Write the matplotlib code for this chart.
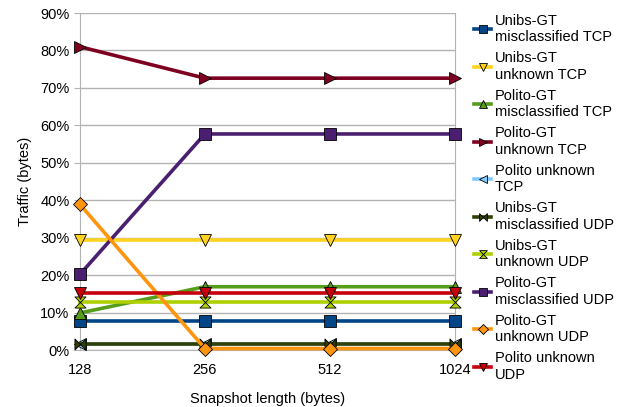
import matplotlib
matplotlib.use("Agg")
import matplotlib.pyplot as plt
from matplotlib.path import Path
from matplotlib.ticker import PercentFormatter

plt.rcParams['font.family'] = ['Liberation Sans', 'DejaVu Sans']

snap_labels = ["128", "256", "512", "1024"]
series_names = [
    "Unibs-GT\nmisclassified TCP",
    "Unibs-GT\nunknown TCP",
    "Polito-GT\nmisclassified TCP",
    "Polito-GT\nunknown TCP",
    "Polito unknown\nTCP",
    "Unibs-GT\nmisclassified UDP",
    "Unibs-GT\nunknown UDP",
    "Polito-GT\nmisclassified UDP",
    "Polito-GT\nunknown UDP",
    "Polito unknown\nUDP",
]
unibs_mis_tcp = [7.7, 7.7, 7.7, 7.7]
unibs_unk_tcp = [29.4, 29.4, 29.4, 29.4]
polito_mis_tcp = [9.9, 16.9, 16.9, 16.9]
polito_unk_tcp = [81.0, 72.6, 72.6, 72.6]
polito_unknown_tcp = [1.5, 1.5, 1.5, 1.5]
unibs_mis_udp = [1.5, 1.5, 1.5, 1.5]
unibs_unk_udp = [12.9, 12.9, 12.9, 12.9]
polito_mis_udp = [20.2, 57.7, 57.7, 57.7]
polito_unk_udp = [38.9, 0.4, 0.4, 0.4]
polito_unknown_udp = [15.3, 15.3, 15.3, 15.3]

series = [unibs_mis_tcp, unibs_unk_tcp, polito_mis_tcp, polito_unk_tcp,
          polito_unknown_tcp, unibs_mis_udp, unibs_unk_udp, polito_mis_udp,
          polito_unk_udp, polito_unknown_udp]
colors = ["#004586", "#ffd320", "#579d1c", "#7e0021", "#83caff",
          "#314004", "#aecf00", "#4b1f6f", "#ff950e", "#c5000b"]

bowtie = Path([(-1, -1), (1, 1), (1, -1), (-1, 1), (-1, -1)],
              [Path.MOVETO, Path.LINETO, Path.LINETO, Path.LINETO, Path.CLOSEPOLY])
hourglass = Path([(-1, -1), (1, 1), (-1, 1), (1, -1), (-1, -1)],
                 [Path.MOVETO, Path.LINETO, Path.LINETO, Path.LINETO, Path.CLOSEPOLY])
markers = ["s", "v", "^", ">", "<", bowtie, hourglass, "s", "D", "v"]
msizes = [8.5, 9, 9, 9, 9, 8, 8, 8.5, 7, 9]

fig = plt.figure(figsize=(6.24, 4.07), dpi=100)
ax = fig.add_axes([0.128, 0.14, 0.601, 0.828])

x = list(range(len(snap_labels)))
for vals, c, m, ms, name in zip(series, colors, markers, msizes, series_names):
    ax.plot(x, vals, color=c, lw=2.6, marker=m, markersize=ms,
            markerfacecolor=c, markeredgecolor="black", markeredgewidth=0.6,
            label=name, clip_on=False, zorder=3)

ax.set_xlim(0, 3)
ax.set_ylim(0, 90)
ax.set_yticks(range(0, 91, 10))
ax.yaxis.set_major_formatter(PercentFormatter(decimals=0))
ax.set_xticks(x)
ax.set_xticklabels(snap_labels)
ax.grid(axis='y', color="#b3b3b3", lw=1)
ax.set_axisbelow(True)
ax.spines["top"].set_visible(False)
for s in ["left", "right", "bottom"]:
    ax.spines[s].set_color("#b3b3b3")
ax.tick_params(axis='both', labelsize=10.5, color="#b3b3b3", length=4)
ax.tick_params(axis='x', length=0, pad=9)
ax.set_ylabel("Traffic (bytes)", fontsize=10.5, labelpad=6)
ax.set_xlabel("Snapshot length (bytes)", fontsize=10.5, labelpad=11)

fig.legend(loc="upper left", bbox_to_anchor=(0.75, 0.98), frameon=False,
           fontsize=10.5, handlelength=1.2, handletextpad=0.25, labelspacing=0.5,
           borderaxespad=0, markerscale=0.7)

fig.savefig("out.png", dpi=100)
